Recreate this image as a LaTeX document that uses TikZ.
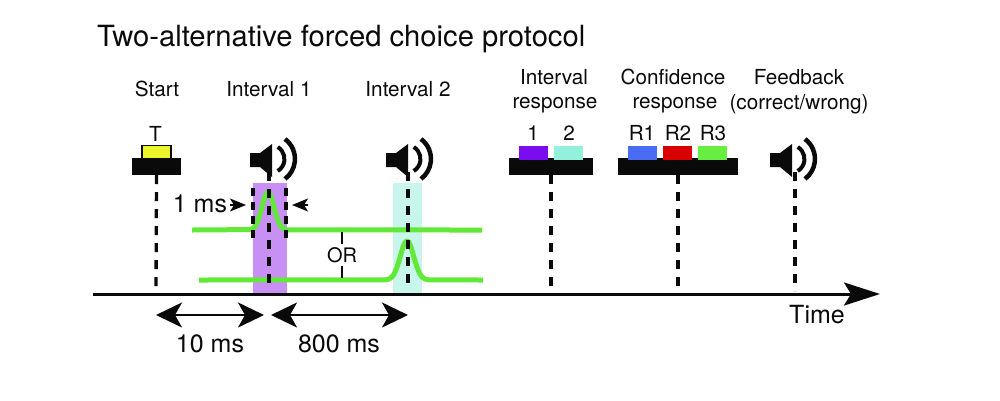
\documentclass[tikz,border=0pt]{standalone}
\usepackage{fontspec}
\setmainfont{TeX Gyre Heros}
\usetikzlibrary{arrows.meta}
\definecolor{ink}{HTML}{0A0A0A}
\definecolor{pulsegreen}{HTML}{62E838}
\definecolor{bandpurple}{HTML}{C88FF5}
\definecolor{bandteal}{HTML}{C8F5EC}
\tikzset{
  x=1pt,y=-1pt,
  label/.style={font=\fontsize{20.7}{20.7}\selectfont,text=ink,inner sep=0pt,anchor=center},
  biglabel/.style={label,font=\fontsize{25}{25}\selectfont},
  bar/.style={fill=ink,draw=none,inner sep=0pt,minimum height=17pt},
  btn/.style={draw=none,inner sep=0pt,minimum width=29pt,minimum height=14pt},
  timeline/.style={draw=ink,line width=3.3pt,dash pattern=on 9pt off 8pt},
  pulse/.style={draw=pulsegreen,line width=5pt,line join=round},
  dbl/.style={draw=ink,line width=2.5pt,{Stealth[length=26pt,width=25pt,inset=7pt]}-{Stealth[length=26pt,width=25pt,inset=7pt]}},
  small/.style={draw=ink,line width=1.5pt,-{Stealth[length=16pt,width=13pt,inset=4pt]}},
  pics/speaker/.style={code={
    \fill[ink] (-22,-7) -- (-12,-7) -- (0,-16) -- (0,17) -- (-12,7) -- (-22,7) -- cycle;
    \draw[ink,line width=4pt] (5.7,-13) arc[start angle=-59,end angle=59,radius=14];
    \draw[ink,line width=4.5pt] (13,-21) arc[start angle=-53,end angle=53,radius=25];
  }}
}
\begin{document}
\begin{tikzpicture}
\useasboundingbox (0,0) rectangle (1000,400);
\node[font=\fontsize{29.2}{29.2}\selectfont,text=ink,inner sep=0pt,anchor=west] (title) at (97,39) {Two-alternative forced choice protocol};

% bands
\node[fill=bandpurple,draw=none,inner sep=0pt,minimum width=34pt,minimum height=110pt] (band1) at (270,238) {};
\node[fill=bandteal,draw=none,inner sep=0pt,minimum width=29pt,minimum height=110pt] (band2) at (407.5,238) {};

% axis anchors
\coordinate (a0) at (93,294);
\coordinate (a1) at (880,294);
\coordinate (tStart) at (156,294);
\coordinate (tI1) at (269,286);
\coordinate (tI2) at (408,286);
\coordinate (tR) at (551,291);
\coordinate (tC) at (678,291);
\coordinate (tF) at (795,291);

% column labels
\node[label] (lStart) at (157,89) {Start};
\node[label] (lI1) at (269,89) {Interval 1};
\node[label] (lI2) at (408,89) {Interval 2};
\node[label] (lR1) at (554,77) {Interval};
\node[label] (lR2) at (555,105) {response};
\node[label] (lC1) at (673,77) {Confidence};
\node[label] (lC2) at (675,105) {response};
\node[label] (lF1) at (799,77) {Feedback};
\node[label] (lF2) at (799,104) {(correct/wrong)};

% start button
\node[bar,minimum width=49pt] (barS) at (156.5,166.5) {};
\node[btn,fill={rgb,255:red,236;green,245;blue,42},draw=ink,line width=1.5pt,minimum height=13pt] (bT) at (156.5,152) {};
\node[label] (lT) at (155.5,134) {T};

% interval response
\node[bar,minimum width=84pt] (barR) at (551,166.5) {};
\node[btn,fill={rgb,255:red,122;green,12;blue,240}] (b1) at (533.5,153) {};
\node[btn,fill={rgb,255:red,147;green,240;blue,220}] (b2) at (568.5,153) {};
\node[label] (l1) at (533,133) {1};
\node[label] (l2) at (569,133) {2};

% confidence response
\node[bar,minimum width=120pt] (barC) at (678,166.5) {};
\node[btn,fill={rgb,255:red,74;green,108;blue,245}] (r1) at (642.5,153) {};
\node[btn,fill={rgb,255:red,216;green,0;blue,0}] (r2) at (677.5,153) {};
\node[btn,fill={rgb,255:red,104;green,238;blue,66}] (r3) at (712.5,153) {};
\node[label] (lr1) at (642,133) {R1};
\node[label] (lr2) at (678,133) {R2};
\node[label] (lr3) at (713,133) {R3};

% speakers
\pic at (272,160) {speaker};
\pic at (408,160) {speaker};
\pic at (792,160) {speaker};
\coordinate (s1) at (269,172);
\coordinate (s2) at (408,172);
\coordinate (s3) at (795,172);

% green traces
\draw[pulse] (192,230) -- plot[domain=250:290,samples=41,smooth] (\x,{230-38*exp(-((\x-268)/8.5)^2)}) -- (482,230);
\draw[pulse] (199,280) -- plot[domain=385:430,samples=46,smooth] (\x,{280-39*exp(-((\x-407)/9.5)^2)}) -- (483,280);

% time dashes
\draw[timeline] (barS.south) -- (tStart);
\draw[timeline] (s1) -- (tI1);
\draw[timeline] (s2) -- (tI2);
\draw[timeline] (barR.south) -- (tR);
\draw[timeline] (barC.south) -- (tC);
\draw[timeline] (s3) -- (tF);

% 1 ms window
\coordinate (w1a) at (253,188); \coordinate (w1b) at (253,243);
\coordinate (w2a) at (286,188); \coordinate (w2b) at (286,243);
\draw[timeline,dash pattern=on 8pt off 6pt] (w1a) -- (w1b);
\draw[timeline,dash pattern=on 8pt off 6pt] (w2a) -- (w2b);
\node[biglabel] (l1ms) at (200,204) {1 ms};
\coordinate (m1) at (230,205); \coordinate (m2) at (246,205);
\coordinate (m3) at (308,205); \coordinate (m4) at (292,205);
\draw[small] (m1) -- (m2);
\draw[small] (m3) -- (m4);

% OR
\node[label,outer sep=3.5pt,font=\fontsize{20}{20}\selectfont] (or) at (342,255) {OR};
\coordinate (orTop) at (342,232); \coordinate (orBot) at (342,278);
\draw[ink,line width=1.5pt] (orTop) -- (or.north);
\draw[ink,line width=1.5pt] (or.south) -- (orBot);

% axis
\draw[ink,line width=3pt,-{Stealth[length=36pt,width=23pt,inset=7pt]}] (a0) -- (a1);
\node[biglabel] (lTime) at (817,315) {Time};

% durations
\coordinate (d1) at (156,315); \coordinate (d2) at (264,315);
\coordinate (d3) at (271,315); \coordinate (d4) at (408,315);
\draw[dbl] (d1) -- (d2);
\draw[dbl] (d3) -- (d4);
\node[biglabel] (l10) at (210,344) {10 ms};
\node[biglabel] (l800) at (339,344) {800 ms};
\end{tikzpicture}
\end{document}
